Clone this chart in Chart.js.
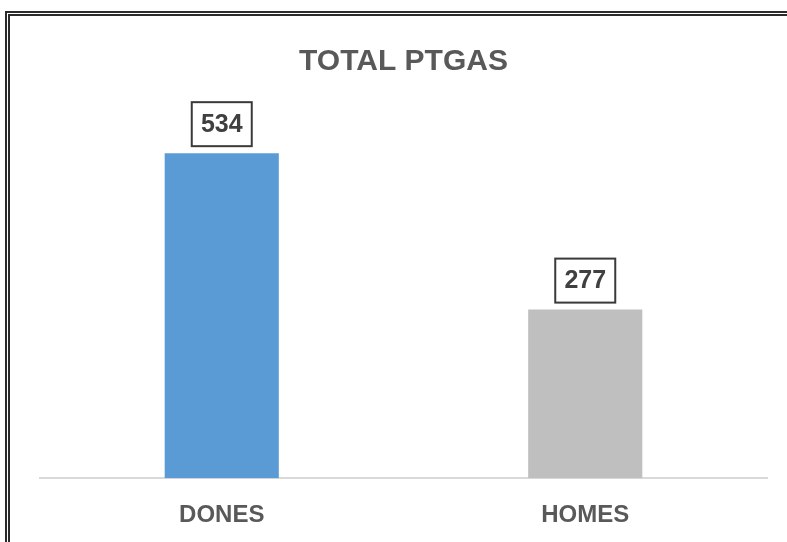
<!DOCTYPE html>
<html>
<head>
<meta charset="utf-8">
<script src="https://cdn.jsdelivr.net/npm/chart.js@4"></script>
<style>
  html, body { margin: 0; padding: 0; background: #fff; overflow: hidden; }
  #wrap { position: relative; width: 787px; height: 542px; }
  #frame {
    position: absolute; left: 5px; top: 11px; width: 800px; height: 560px;
    border: 5px double #2b2b2b; box-sizing: border-box; pointer-events: none;
  }
  canvas { position: absolute; left: 0; top: 0; }
</style>
</head>
<body>
<div id="wrap">
  <canvas id="bar" width="787" height="542"></canvas>
  <div id="frame"></div>
</div>
<script>
// データ
const categories = ['DONES', 'HOMES'];
const values = [534, 277];
const barColors = ['#5b9bd5', '#bfbfbf'];

// 値ラベル（枠付き）
const boxLabels = {
  id: 'boxLabels',
  afterDatasetsDraw(chart) {
    const ctx = chart.ctx;
    const meta = chart.getDatasetMeta(0);
    ctx.save();
    ctx.font = 'bold 25px "Liberation Sans", Arial, sans-serif';
    ctx.textAlign = 'center';
    ctx.textBaseline = 'middle';
    meta.data.forEach((bar, i) => {
      const w = 60, h = 44;
      const x = bar.x - w / 2;
      const y = bar.y - 7 - h;
      ctx.fillStyle = '#fff';
      ctx.fillRect(x, y, w, h);
      ctx.strokeStyle = '#3a3a3a';
      ctx.lineWidth = 2;
      ctx.strokeRect(x, y, w, h);
      ctx.fillStyle = '#404040';
      ctx.fillText(String(values[i]), bar.x, y + h / 2 + 1);
    });
    ctx.restore();
  }
};

const bar = document.getElementById('bar').getContext('2d');

const barchart = new Chart(bar, {
  type: 'bar',
  data: {
    labels: categories,
    datasets: [{
      data: values,
      backgroundColor: barColors,
      borderWidth: 0,
      barPercentage: 0.314,
      categoryPercentage: 1
    }]
  },
  options: {
    responsive: false,
    animation: false,
    layout: {
      padding: { left: 40, right: 20, top: 0, bottom: -11 }
    },
    scales: {
      x: {
        grid: { display: false, drawTicks: false },
        border: { display: true, color: '#d9d9d9', width: 2 },
        ticks: {
          color: '#595959',
          padding: 23,
          font: { family: '"Liberation Sans", Arial, sans-serif', size: 24, weight: 'bold' }
        }
      },
      y: {
        display: false,
        min: 0,
        max: 600
      }
    },
    plugins: {
      legend: { display: false },
      tooltip: { enabled: false },
      title: {
        display: true,
        text: 'TOTAL PTGAS',
        color: '#595959',
        padding: { top: 44, bottom: 33 },
        font: { family: '"Liberation Sans", Arial, sans-serif', size: 30, weight: 'bold' }
      }
    }
  },
  plugins: [boxLabels]
});
</script>
</body>
</html>
